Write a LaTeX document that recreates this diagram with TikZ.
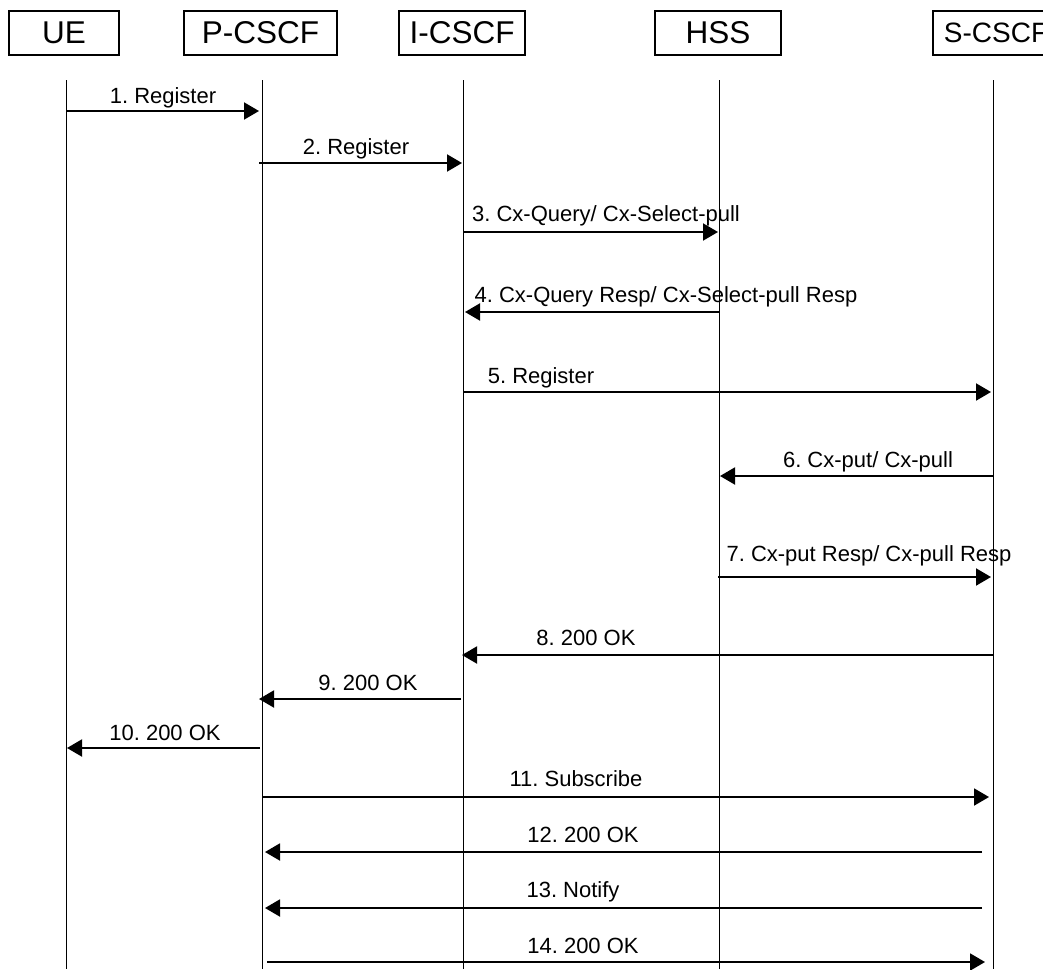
\documentclass[tikz,border=0pt]{standalone}
\usepackage{fontspec}
\setmainfont{Liberation Sans}
\usetikzlibrary{arrows.meta}
\frenchspacing
\begin{document}
\begin{tikzpicture}[x=1pt,y=-1pt,
  hdr/.style={draw,line width=1.2pt,minimum height=44pt,inner sep=0pt,font=\fontsize{31.5}{31.5}\selectfont},
  life/.style={line width=1pt},
  msg/.style={line width=2pt,-{Triangle[length=15pt,width=17pt]}},
  lbl/.style={anchor=base,inner sep=0pt,font=\fontsize{22}{22}\selectfont}]
\useasboundingbox (0,0) rectangle (1043,969);
\clip (0,0) rectangle (1043,969);
\fill[white] (0,0) rectangle (1043,969);
% header boxes
\node[hdr,minimum width=110pt] (ue) at (64,33) {UE};
\node[hdr,minimum width=153pt] (pcscf) at (260.5,33) {P-CSCF};
\node[hdr,minimum width=126pt] (icscf) at (462,33) {I-CSCF};
\node[hdr,minimum width=126pt] (hss) at (718,33) {HSS};
\node[hdr,minimum width=126pt,font=\fontsize{28}{28}\selectfont] (scscf) at (996,33) {S-CSCF};
% lifelines
\foreach \n/\x in {ue/66,pc/262,ic/463,hs/719,sc/993}{
  \coordinate (\n T) at (\x,80);
  \coordinate (\n B) at (\x,969);
  \draw[life] (\n T) -- (\n B);
}
% messages
\foreach \i/\xa/\xb/\yy in {1/66/259/111, 2/259/462/163, 3/463/718/232, 4/719/465/312,
  5/463/991/392, 6/993/720/476, 7/718/991/577, 8/993/462/655, 9/461/259/699,
  10/260/67/748, 11/262/989/797, 12/982/265/852, 13/982/265/908, 14/267/985/962}{
  \coordinate (s\i) at (\xa,\yy);
  \coordinate (e\i) at (\xb,\yy);
  \draw[msg] (s\i) -- (e\i);
}
% labels
\node[lbl] (l1) at (163,103) {1. Register};
\node[lbl] (l2) at (356,154) {2. Register};
\node[lbl] (l3) at (606,221) {3. Cx-Query/ Cx-Select-pull};
\node[lbl] (l4) at (666,302) {4. Cx-Query Resp/ Cx-Select-pull Resp};
\node[lbl] (l5) at (541,383) {5. Register};
\node[lbl] (l6) at (868,467) {6. Cx-put/ Cx-pull};
\node[lbl] (l7) at (869,561) {7. Cx-put Resp/ Cx-pull Resp};
\node[lbl] (l8) at (586,645) {8. 200 OK};
\node[lbl] (l9) at (368,690) {9. 200 OK};
\node[lbl] (l10) at (165,740) {10. 200 OK};
\node[lbl] (l11) at (576,786) {11. Subscribe};
\node[lbl] (l12) at (583,842) {12. 200 OK};
\node[lbl] (l13) at (573,897) {13. Notify};
\node[lbl] (l14) at (583,953) {14. 200 OK};
\end{tikzpicture}
\end{document}
